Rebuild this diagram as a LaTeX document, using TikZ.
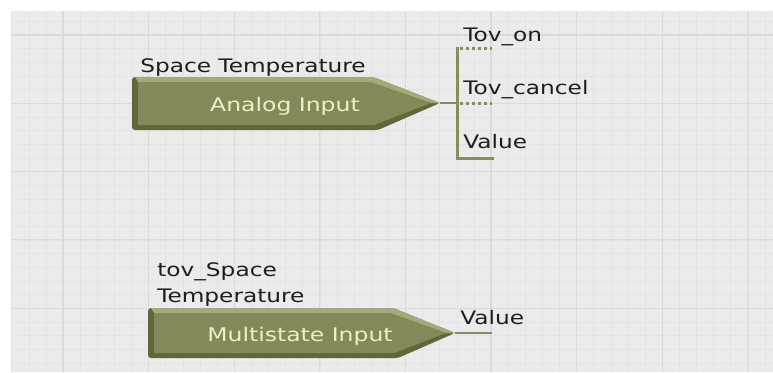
\documentclass[tikz,border=0pt]{standalone}
\usepackage{fontspec}
\setmainfont{DejaVu Sans}
\definecolor{bgc}{HTML}{EBEBEB}
\definecolor{minorc}{HTML}{E3E3E3}
\definecolor{majorc}{HTML}{DADADA}
\definecolor{olive}{HTML}{858959}
\definecolor{olivedark}{HTML}{62663B}
\definecolor{olivelight}{HTML}{A6A87D}
\definecolor{busc}{HTML}{8A8C5B}
\definecolor{cream}{HTML}{F0EDC8}
\definecolor{txt}{HTML}{1E1E1E}
\tikzset{
  lbl/.style={anchor=base west, inner sep=0pt, font=\fontsize{18.6}{20}\selectfont, text=txt, xscale=1.25},
  blocktext/.style={anchor=base, inner sep=0pt, font=\fontsize{18.8}{20}\selectfont, text=cream, xscale=1.25},
  minorline/.style={draw=minorc, line width=0.5pt},
  majorline/.style={draw=majorc, line width=1.1pt},
  bus/.style={draw=busc, line width=3pt},
  stub/.style={draw=busc, line width=3pt, dash pattern=on 3pt off 3pt},
  wire/.style={draw=busc, line width=2.5pt}
}
\begin{document}
\begin{tikzpicture}[x=1pt,y=-1pt]
\useasboundingbox (0,0) rectangle (773,372);
% background grid
\fill[bgc] (11,11) rectangle (773,372);
\foreach \i in {0,...,44} {\pgfmathsetmacro\xx{63+(\i-3)*17.12}
  \draw[minorline] (\xx,11) -- (\xx,372);}
\foreach \k in {-1,...,24} {\pgfmathsetmacro\yy{35+\k*13.66}
  \draw[minorline] (11,\yy) -- (773,\yy);}
\foreach \j in {0,...,8} {\pgfmathsetmacro\xx{63+\j*85.6}
  \draw[majorline] (\xx,11) -- (\xx,372);}
\foreach \j in {0,...,4} {\pgfmathsetmacro\yy{35+\j*68.3}
  \draw[majorline] (11,\yy) -- (773,\yy);}

% ---- block 1: Analog Input ----
\fill[olivedark, rounded corners=3pt] (132,77) -- (373,77) -- (440,103) -- (378,130) -- (132,130) -- cycle;
\fill[olivelight] (135,77) -- (373,77) -- (440,103) -- (431,103) -- (370,82) -- (138,82) -- cycle;
\fill[olive] (138,82) -- (370,82) -- (431,103) -- (374,125) -- (138,125) -- cycle;
\coordinate (tip1) at (440,103);
\node[blocktext] (ai) at (285,111) {Analog Input};
\node[lbl] (spacetemp) at (140,72) {Space Temperature};

% bus of block 1
\coordinate (bustop) at (457,48);
\coordinate (busmid) at (457,103);
\coordinate (busbot) at (457,158);
\coordinate (footend) at (492,158);
\coordinate (stubtop) at (492,48);
\coordinate (stubmid) at (492,103);
\draw[wire] (tip1) -- (busmid);
\draw[bus, line cap=rect] (bustop) -- (busbot) -- (footend);
\draw[stub] ([xshift=3pt]bustop) -- (stubtop);
\draw[stub] ([xshift=3pt]busmid) -- (stubmid);
\node[lbl] (tovon) at (463,41) {Tov\_on};
\node[lbl] (tovcancel) at (463,94) {Tov\_cancel};
\node[lbl] (value1) at (463,148) {Value};

% ---- block 2: Multistate Input ----
\fill[olivedark, rounded corners=3pt] (148,308) -- (393,308) -- (455,333) -- (398,358) -- (148,358) -- cycle;
\fill[olivelight] (151,308) -- (393,308) -- (455,333) -- (446,333) -- (390,313) -- (154,313) -- cycle;
\fill[olive] (154,313) -- (390,313) -- (446,333) -- (394,353) -- (154,353) -- cycle;
\coordinate (tip2) at (455,333);
\coordinate (out2) at (492,333);
\draw[wire] (tip2) -- (out2);
\node[blocktext] (msi) at (300,341) {Multistate Input};
\node[lbl] (tovspace) at (157,276) {tov\_Space};
\node[lbl] (temp2) at (157,302) {Temperature};
\node[lbl] (value2) at (460,324) {Value};
\end{tikzpicture}
\end{document}
